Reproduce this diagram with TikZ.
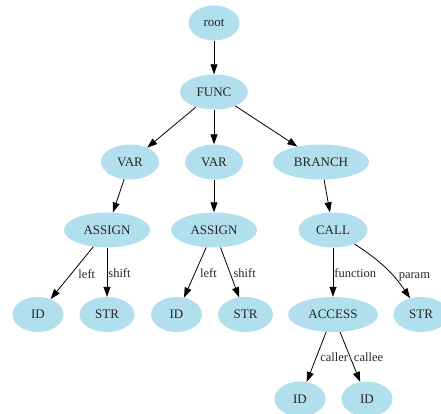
\documentclass[tikz,border=0pt]{standalone}
\usepackage{fontspec}
\setmainfont{Liberation Serif}
\usetikzlibrary{arrows.meta,shapes.geometric}
\definecolor{nodefill}{HTML}{B2DFEE}
\tikzset{
  tn/.style={ellipse, fill=nodefill, draw=none, inner sep=0pt, minimum height=35pt,
    font=\fontsize{13}{15}\selectfont, text=black!85},
  edge/.style={draw=black, line width=0.8pt, -{Triangle[length=10pt,width=7pt]}},
  lbl/.style={anchor=west, inner sep=0pt, font=\fontsize{12.5}{14}\selectfont, text=black!85}
}
\begin{document}
\begin{tikzpicture}[x=1pt,y=-1pt]
\useasboundingbox (0,0) rectangle (441,414);
\node[tn, minimum width=51pt] (root) at (214,23) {root};
\node[tn, minimum width=68pt] (func) at (214,92) {FUNC};
\node[tn, minimum width=58pt] (var1) at (130,162) {VAR};
\node[tn, minimum width=58pt] (var2) at (214,162) {VAR};
\node[tn, minimum width=96pt] (branch) at (321,162) {BRANCH};
\node[tn, minimum width=86pt] (assign1) at (107,230) {ASSIGN};
\node[tn, minimum width=86pt] (assign2) at (214,230) {ASSIGN};
\node[tn, minimum width=69pt] (call) at (333,230) {CALL};
\node[tn, minimum width=51pt] (id1) at (38,314.5) {ID};
\node[tn, minimum width=55pt] (str1) at (107,314.5) {STR};
\node[tn, minimum width=51pt] (id2) at (176.5,314.5) {ID};
\node[tn, minimum width=55pt] (str2) at (245.5,314.5) {STR};
\node[tn, minimum width=90pt] (access) at (333,314.5) {ACCESS};
\node[tn, minimum width=55pt] (str3) at (421,314.5) {STR};
\node[tn, minimum width=51pt] (id3) at (300,399) {ID};
\node[tn, minimum width=51pt] (id4) at (367,399) {ID};

\draw[edge] (root) -- (func);
\draw[edge] (func) -- (var1);
\draw[edge] (func) -- (var2);
\draw[edge] (func) -- (branch);
\draw[edge] (var1) -- (assign1);
\draw[edge] (var2) -- (assign2);
\draw[edge] (branch) -- (call);
\draw[edge] (assign1) -- node[lbl, pos=0.52, xshift=7pt] (l1) {left} (id1);
\draw[edge] (assign1) -- node[lbl, pos=0.52, xshift=1pt] (l2) {shift} (str1);
\draw[edge] (assign2) -- node[lbl, pos=0.52, xshift=5pt] (l3) {left} (id2);
\draw[edge] (assign2) -- node[lbl, pos=0.52, xshift=3pt] (l4) {shift} (str2);
\draw[edge] (call) -- node[lbl, pos=0.52, xshift=1pt] (l5) {function} (access);
\draw[edge] (call) to[out=-33, in=124] node[lbl, pos=0.68, xshift=4pt] (l6) {param} (str3);
\draw[edge] (access) -- node[lbl, pos=0.5, xshift=3.5pt] (l7) {caller} (id3);
\draw[edge] (access) -- node[lbl, pos=0.5, xshift=3.5pt] (l8) {callee} (id4);
\end{tikzpicture}
\end{document}
